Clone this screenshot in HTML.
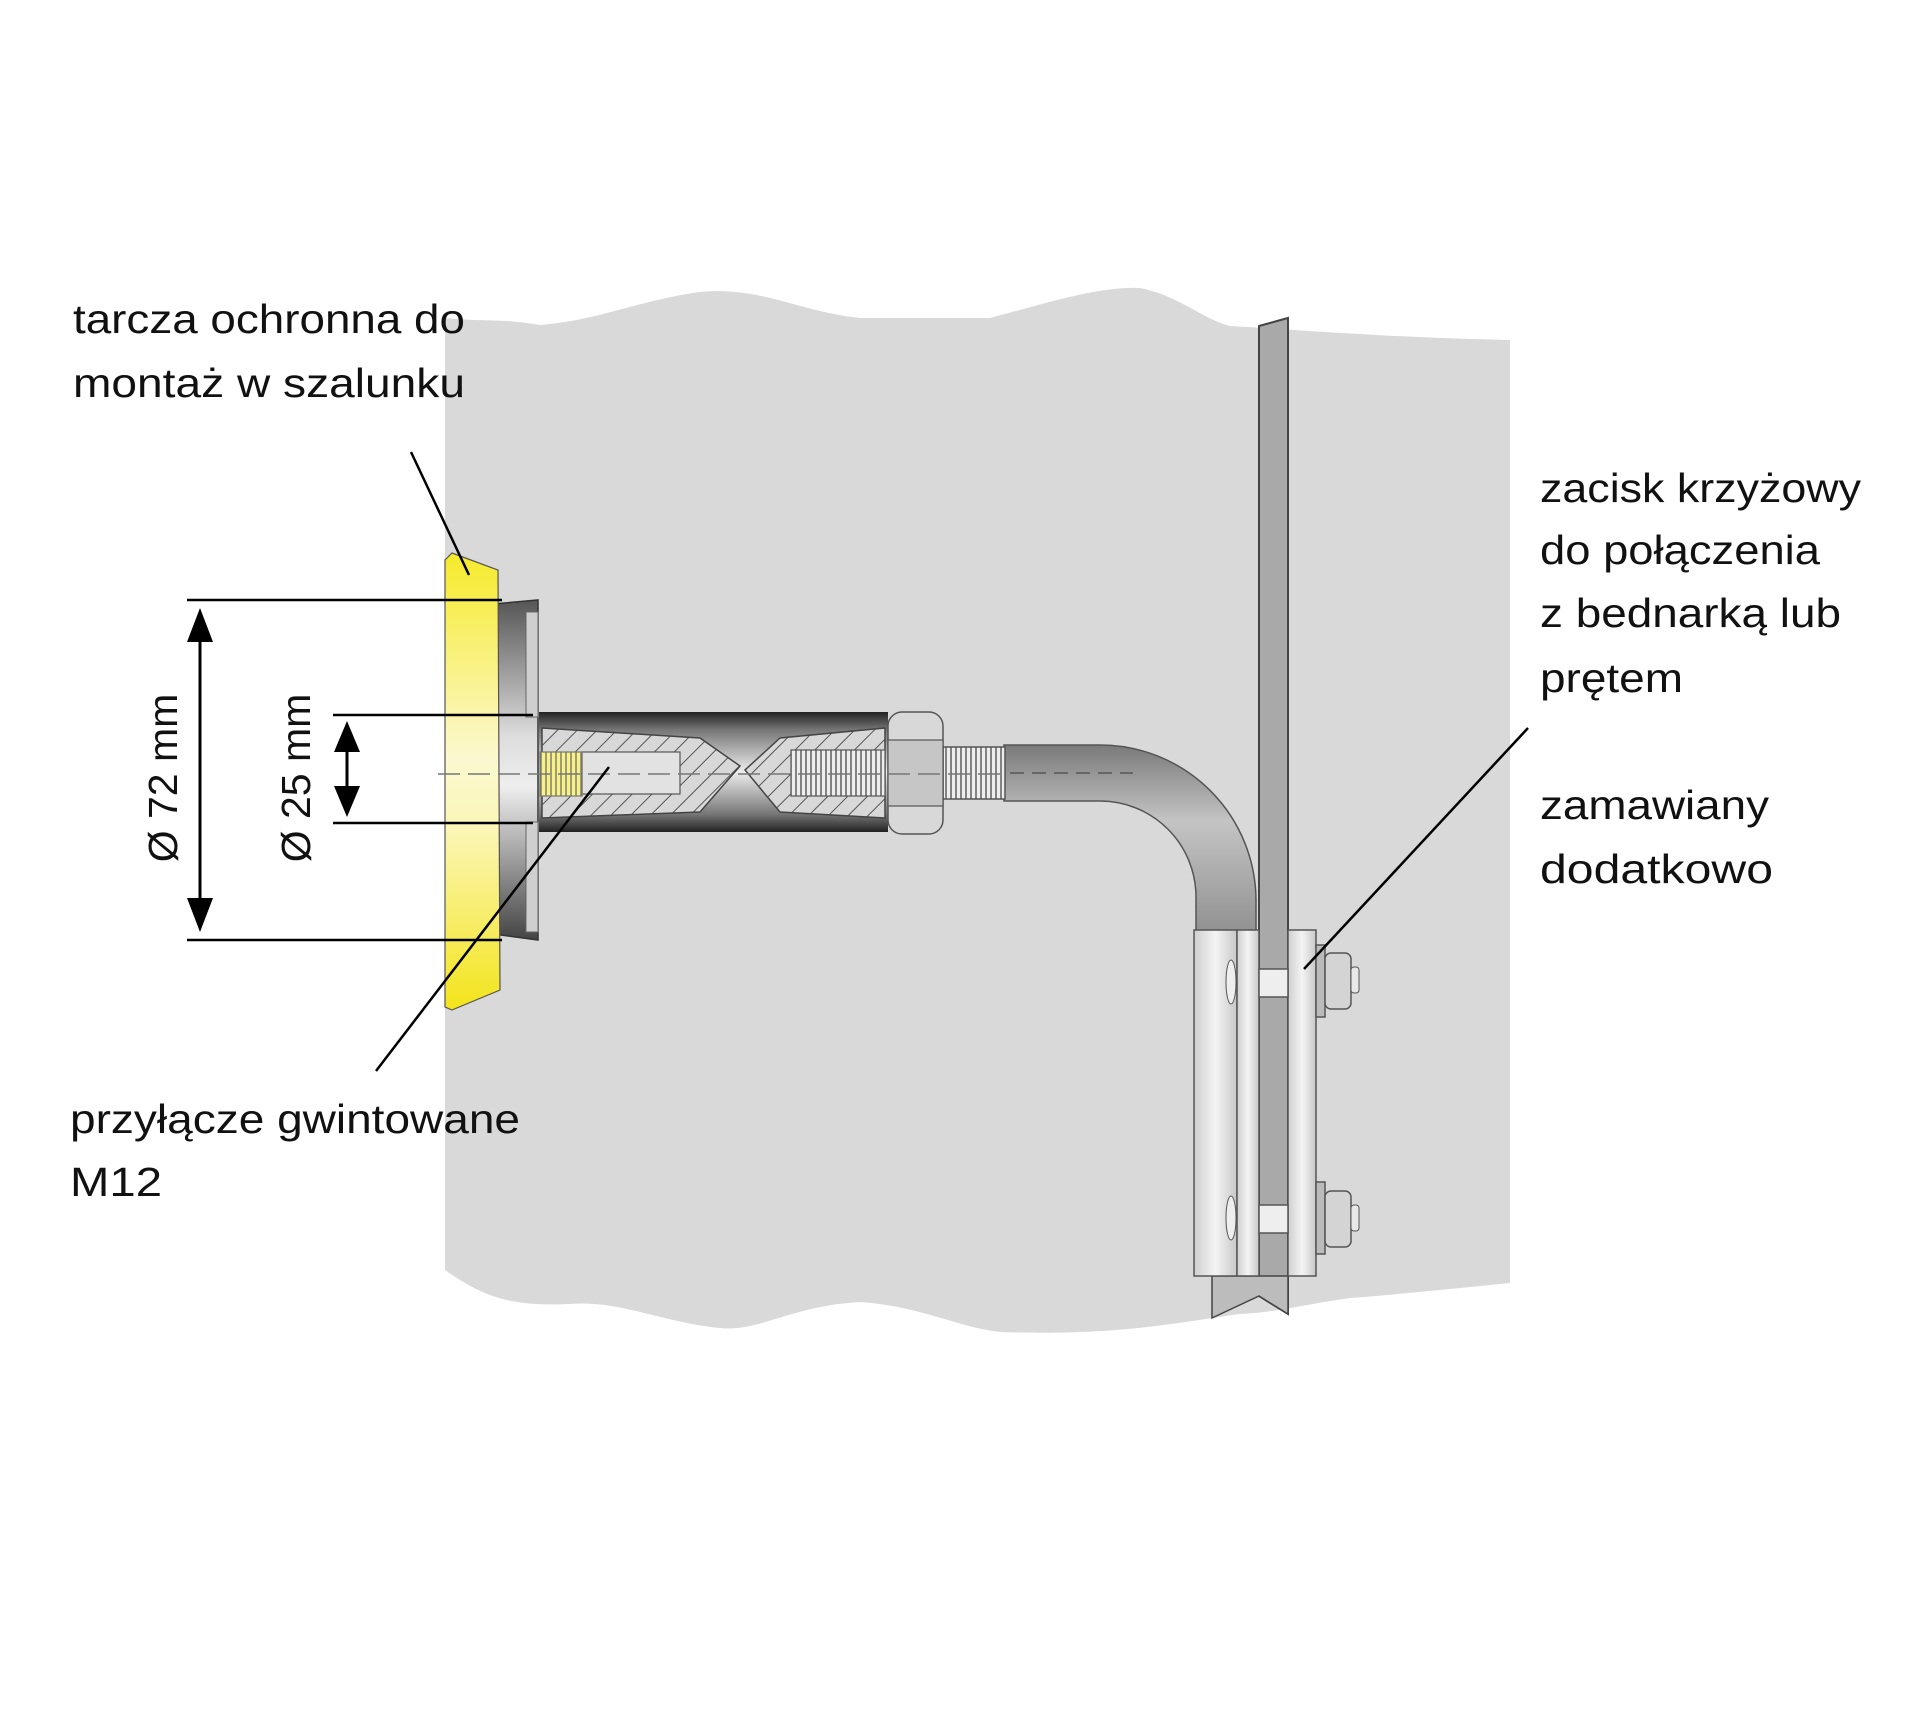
<!DOCTYPE html>
<html><head><meta charset="utf-8"><style>
html,body{margin:0;padding:0;background:#fff;}
svg{display:block;}
text{font-family:"Liberation Sans",sans-serif;fill:#111;}
</style></head><body>
<svg width="1920" height="1717" viewBox="0 0 1920 1717" xmlns="http://www.w3.org/2000/svg">
<defs>
<linearGradient id="yel" x1="0" y1="0" x2="0" y2="1">
<stop offset="0" stop-color="#f6ea2a"/><stop offset="0.45" stop-color="#fbf8d0"/><stop offset="0.6" stop-color="#fbf6b8"/><stop offset="1" stop-color="#f3e41a"/></linearGradient>
<linearGradient id="fl" x1="0" y1="0" x2="0" y2="1">
<stop offset="0" stop-color="#555"/><stop offset="0.4" stop-color="#ddd"/><stop offset="0.55" stop-color="#eee"/><stop offset="1" stop-color="#444"/></linearGradient>
<linearGradient id="tube" x1="0" y1="0" x2="0" y2="1">
<stop offset="0" stop-color="#222"/><stop offset="0.15" stop-color="#777"/><stop offset="0.5" stop-color="#ededed"/><stop offset="0.85" stop-color="#777"/><stop offset="1" stop-color="#222"/></linearGradient>
<linearGradient id="rod" x1="0" y1="0" x2="0" y2="1">
<stop offset="0" stop-color="#7a7a7a"/><stop offset="0.4" stop-color="#c4c4c4"/><stop offset="1" stop-color="#909090"/></linearGradient>
<linearGradient id="plate" x1="0" y1="0" x2="1" y2="0">
<stop offset="0" stop-color="#cfcfcf"/><stop offset="0.5" stop-color="#f4f4f4"/><stop offset="1" stop-color="#c8c8c8"/></linearGradient>
<pattern id="hatch" width="14" height="14" patternUnits="userSpaceOnUse" patternTransform="rotate(45)">
<rect width="14" height="14" fill="#d8d8d8"/><line x1="0" y1="0" x2="0" y2="14" stroke="#555" stroke-width="2"/></pattern>
<pattern id="thr" width="5" height="10" patternUnits="userSpaceOnUse">
<rect width="5" height="10" fill="#eee"/><line x1="1" y1="0" x2="1" y2="10" stroke="#555" stroke-width="1.4"/></pattern>
<pattern id="thry" width="5" height="10" patternUnits="userSpaceOnUse">
<rect width="5" height="10" fill="#f8f08a"/><line x1="1" y1="0" x2="1" y2="10" stroke="#776" stroke-width="1.4"/></pattern>
</defs>

<path d="M445,318 C480,322 500,318 540,325 C600,320 640,300 700,292 C760,286 800,312 860,318 C920,318 960,318 990,318 C1050,302 1100,286 1140,288 C1180,296 1200,318 1230,326 C1300,330 1400,338 1510,340 L1510,1283 C1440,1290 1390,1295 1350,1298 C1300,1305 1280,1312 1240,1314 C1180,1322 1120,1336 1000,1332 C960,1328 920,1306 860,1302 C790,1306 760,1332 720,1328 C660,1322 620,1300 570,1304 C520,1306 490,1302 445,1270 Z" fill="#d9d9d9"/>

<polygon points="1259,326 1288,318 1288,1314 1259,1296" fill="#a9a9a9" stroke="#444" stroke-width="2"/>

<path d="M1004,745 L1100,745 A156,156 0 0 1 1256,901 L1256,935 L1196,935 L1196,897 A96,96 0 0 0 1100,801 L1004,801 Z" fill="url(#rod)" stroke="#555" stroke-width="1.5"/>
<line x1="1010" y1="773" x2="1133" y2="773" stroke="#666" stroke-width="2" stroke-dasharray="14,8"/>

<polygon points="1212,1276 1288,1276 1288,1314 1259,1296 1212,1318" fill="#bcbcbc" stroke="#444" stroke-width="1.5"/>
<rect x="1194" y="930" width="43" height="346" fill="url(#plate)" stroke="#555" stroke-width="1.5"/>
<rect x="1237" y="930" width="22" height="346" fill="url(#plate)" stroke="#555" stroke-width="1.5"/>
<rect x="1288" y="930" width="28" height="346" fill="url(#plate)" stroke="#555" stroke-width="1.5"/>
<rect x="1259" y="969" width="29" height="28" fill="#eee" stroke="#555" stroke-width="1.5"/>
<rect x="1259" y="1205" width="29" height="28" fill="#eee" stroke="#555" stroke-width="1.5"/>
<ellipse cx="1231" cy="982" rx="5" ry="22" fill="#eee" stroke="#555"/>
<ellipse cx="1231" cy="1218" rx="5" ry="22" fill="#eee" stroke="#555"/>
<rect x="1316" y="945" width="9" height="72" fill="#bbb" stroke="#555" stroke-width="1.5"/>
<rect x="1316" y="1182" width="9" height="72" fill="#bbb" stroke="#555" stroke-width="1.5"/>
<rect x="1325" y="953" width="26" height="56" rx="6" fill="#d4d4d4" stroke="#555" stroke-width="1.5"/>
<rect x="1325" y="1191" width="26" height="56" rx="6" fill="#d4d4d4" stroke="#555" stroke-width="1.5"/>
<rect x="1351" y="967" width="8" height="26" rx="3" fill="#e8e8e8" stroke="#555"/>
<rect x="1351" y="1205" width="8" height="26" rx="3" fill="#e8e8e8" stroke="#555"/>

<rect x="943" y="747" width="62" height="52" fill="url(#thr)" stroke="#555" stroke-width="1.5"/>
<rect x="539" y="712" width="349" height="120" fill="url(#tube)"/>
<path d="M542,728 L700,738 L740,766 L700,812 L542,818 Z" fill="url(#hatch)" stroke="#444" stroke-width="1.5"/>
<path d="M885,728 L780,738 L745,770 L780,812 L885,818 Z" fill="url(#hatch)" stroke="#444" stroke-width="1.5"/>
<rect x="582" y="752" width="98" height="42" fill="#e2e2e2" stroke="#555" stroke-width="1.2"/>
<rect x="791" y="750" width="94" height="46" fill="url(#thr)" stroke="#555" stroke-width="1.2"/>
<rect x="540" y="752" width="42" height="44" fill="url(#thry)" stroke="#776" stroke-width="1.2"/>
<rect x="888" y="712" width="55" height="122" rx="14" fill="#d8d8d8" stroke="#555" stroke-width="1.5"/>
<rect x="888" y="740" width="55" height="66" fill="#c6c6c6" stroke="#555" stroke-width="1.2"/>

<polygon points="493,604 538,600 538,940 493,934" fill="url(#fl)" stroke="#333" stroke-width="1.5"/>
<rect x="526" y="612" width="12" height="105" fill="#cfcfcf" stroke="#666"/>
<rect x="526" y="822" width="12" height="110" fill="#cfcfcf" stroke="#666"/>

<path d="M445,560 L452,553 L498,570 L500,990 L452,1010 L445,1007 Z" fill="url(#yel)" stroke="#555" stroke-width="1.2"/>

<line x1="438" y1="774" x2="1000" y2="774" stroke="#777" stroke-width="1.5" stroke-dasharray="22,8"/>

<g stroke="#000" stroke-width="2.5" fill="none">
<line x1="187" y1="600" x2="502" y2="600"/>
<line x1="187" y1="940" x2="502" y2="940"/>
<line x1="333" y1="715" x2="533" y2="715"/>
<line x1="333" y1="823" x2="533" y2="823"/>
</g>
<line x1="200" y1="612" x2="200" y2="928" stroke="#000" stroke-width="3"/>
<polygon points="200,608 187,642 213,642" fill="#000"/>
<polygon points="200,932 187,898 213,898" fill="#000"/>
<line x1="347" y1="725" x2="347" y2="813" stroke="#000" stroke-width="3"/>
<polygon points="347,721 334,752 360,752" fill="#000"/>
<polygon points="347,817 334,786 360,786" fill="#000"/>

<text transform="translate(177,778) rotate(-90)" font-size="41" text-anchor="middle">Ø 72 mm</text>
<text transform="translate(310,778) rotate(-90)" font-size="41" text-anchor="middle">Ø 25 mm</text>

<g stroke="#000" stroke-width="2.5">
<line x1="411" y1="452" x2="469" y2="575"/>
<line x1="376" y1="1071" x2="609" y2="767"/>
<line x1="1528" y1="728" x2="1304" y2="969"/>
</g>

<g font-size="41">
<text x="73" y="333" textLength="392" lengthAdjust="spacingAndGlyphs">tarcza ochronna do</text>
<text x="73" y="397" textLength="392" lengthAdjust="spacingAndGlyphs">montaż w szalunku</text>
<text x="70" y="1133" textLength="450" lengthAdjust="spacingAndGlyphs">przyłącze gwintowane</text>
<text x="70" y="1196" textLength="92" lengthAdjust="spacingAndGlyphs">M12</text>
<text x="1540" y="502" textLength="321" lengthAdjust="spacingAndGlyphs">zacisk krzyżowy</text>
<text x="1540" y="564" textLength="280" lengthAdjust="spacingAndGlyphs">do połączenia</text>
<text x="1540" y="627" textLength="301" lengthAdjust="spacingAndGlyphs">z bednarką lub</text>
<text x="1540" y="692" textLength="143" lengthAdjust="spacingAndGlyphs">prętem</text>
<text x="1540" y="819" textLength="229" lengthAdjust="spacingAndGlyphs">zamawiany</text>
<text x="1540" y="883" textLength="233" lengthAdjust="spacingAndGlyphs">dodatkowo</text>
</g>
</svg>
</body></html>
